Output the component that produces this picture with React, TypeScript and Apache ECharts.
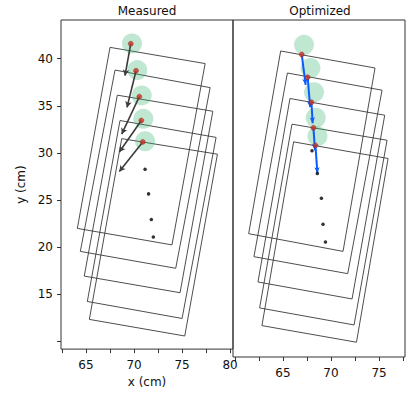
import React, { useEffect, useRef } from "react";
import * as echarts from "echarts";

// ---- data (cm) ----
const panelTitles = ["Measured", "Optimized"];
const xLabelsMeasured = [65, 70, 75, 80];
const xTicksMeasured = [62.5, 65, 67.5, 70, 72.5, 75, 77.5, 80];
const xLabelsOptimized = [65, 70, 75];
const xTicksOptimized = [60, 62.5, 65, 67.5, 70, 72.5, 75, 77.5];
const yLabels = [15, 20, 25, 30, 35, 40];
const yTicks = [10, 15, 20, 25, 30, 35, 40];

// rectangle corners: TL, TR, BR, BL
const measuredRects = [
  [[67.5, 41.2], [77.4, 39.48], [73.95, 20.25], [64.1, 22.0]],
  [[68.02, 38.79], [77.92, 36.93], [74.34, 17.77], [64.41, 19.56]],
  [[68.26, 36.13], [78.2, 34.42], [74.79, 15.18], [64.82, 16.94]],
  [[68.54, 33.44], [78.54, 31.65], [75.0, 12.45], [65.14, 14.25]],
  [[68.72, 31.52], [78.68, 29.87], [75.28, 10.59], [65.35, 12.35]],
];
const measuredCircles = [[69.79, 41.61], [70.34, 38.79], [70.8, 36.1], [70.97, 33.62], [71.15, 31.24]];
const measuredPoints = [[69.66, 41.58], [70.21, 38.72], [70.55, 35.97], [70.76, 33.44], [70.91, 31.17]];
const measuredArrowTips = [[69.06, 38.2], [69.27, 34.83], [68.72, 32.0], [68.47, 30.1], [68.47, 28.03]];
const measuredTruth = [[71.15, 28.27], [71.51, 25.66], [71.8, 22.94], [72.01, 21.08]];

const optimizedRects = [
  [[64.76, 40.89], [74.58, 39.13], [71.25, 20.14], [61.43, 21.97]],
  [[65.46, 38.61], [75.31, 36.83], [71.74, 17.83], [61.98, 19.59]],
  [[65.73, 35.97], [75.59, 34.24], [72.19, 15.21], [62.4, 16.97]],
  [[65.94, 33.31], [75.83, 31.65], [72.4, 12.52], [62.57, 14.28]],
  [[66.11, 31.48], [75.94, 29.76], [72.65, 10.73], [62.81, 12.45]],
];
const optimizedCircles = [[67.19, 41.53], [67.86, 39.13], [68.23, 36.62], [68.41, 33.98], [68.59, 32.07]];
const optimizedPoints = [[66.95, 40.53], [67.57, 38.17], [67.96, 35.58], [68.17, 32.93], [68.38, 31.11]];
const optimizedArrowTips = [[67.36, 37.39], [67.83, 35.07], [68.09, 33.41], [68.33, 30.62], [68.58, 28.24]];
const optimizedTruth = [[68.02, 30.55], [68.58, 28.21], [69.0, 25.63], [69.17, 22.94], [69.42, 21.11]];

const FONT = "DejaVu Sans";

function panelSeries(idx: number, rects: number[][][], circles: number[][], pts: number[][], tips: number[][], truth: number[][], arrowColor: string, arrowWidth: number, headSize: number[]) {
  const out: any[] = [];
  rects.forEach((r) => {
    out.push({
      type: "line",
      xAxisIndex: idx,
      yAxisIndex: idx,
      data: [...r, r[0]],
      symbol: "none",
      silent: true,
      z: 2,
      lineStyle: { color: "#3a3a3a", width: 0.9 },
    });
  });
  out.push({
    type: "scatter",
    xAxisIndex: idx,
    yAxisIndex: idx,
    data: circles,
    symbolSize: 20,
    silent: true,
    z: 3,
    itemStyle: { color: "rgba(60,179,113,0.4)" },
  });
  out.push({
    type: "line",
    xAxisIndex: idx,
    yAxisIndex: idx,
    data: [],
    symbol: "none",
    silent: true,
    z: 4,
    markLine: {
      silent: true,
      animation: false,
      symbol: ["none", "arrow"],
      symbolSize: headSize,
      label: { show: false },
      emphasis: { disabled: true },
      lineStyle: { color: arrowColor, width: arrowWidth, type: "solid", opacity: 1 },
      data: pts.map((p, i) => [{ coord: p }, { coord: tips[i] }]),
    },
  });
  out.push({
    type: "scatter",
    xAxisIndex: idx,
    yAxisIndex: idx,
    data: pts,
    symbolSize: 5,
    silent: true,
    z: 5,
    itemStyle: { color: "#d0301f", borderColor: "#7a2418", borderWidth: 0.5 },
  });
  out.push({
    type: "scatter",
    xAxisIndex: idx,
    yAxisIndex: idx,
    data: truth,
    symbolSize: 3.5,
    silent: true,
    z: 5,
    itemStyle: { color: "#000" },
  });
  return out;
}

export default function App() {
  const ref = useRef<HTMLDivElement>(null);
  useEffect(() => {
    if (!ref.current) return;
    const chart = echarts.init(ref.current, undefined, { renderer: "svg" });
    const axisCommon = {
      type: "value",
      splitLine: { show: false },
      axisLine: { show: false },
      axisTick: { show: true, length: 4, lineStyle: { color: "#333", width: 1 } },
      axisLabel: { fontFamily: FONT, fontSize: 12, color: "#111" },
    };
    chart.setOption({
      animation: false,
      backgroundColor: "#fff",
      grid: [
        { left: 61, top: 20, width: 172, height: 337, show: true, borderColor: "#333", borderWidth: 1 },
        { left: 233, top: 20, width: 172, height: 337, show: true, borderColor: "#333", borderWidth: 1 },
      ],
      xAxis: [
        {
          ...axisCommon,
          gridIndex: 0,
          min: 62.4,
          max: 80.3,
          axisTick: { ...axisCommon.axisTick, customValues: xTicksMeasured },
          axisLabel: { ...axisCommon.axisLabel, customValues: xLabelsMeasured, margin: 10 },
          name: "x (cm)",
          nameLocation: "middle",
          nameGap: 24,
          nameTextStyle: { fontFamily: FONT, fontSize: 12, color: "#111" },
        },
        {
          ...axisCommon,
          gridIndex: 1,
          min: 59.8,
          max: 77.7,
          axisTick: { ...axisCommon.axisTick, customValues: xTicksOptimized },
          axisLabel: { ...axisCommon.axisLabel, customValues: xLabelsOptimized, margin: 10 },
        },
      ],
      yAxis: [
        {
          ...axisCommon,
          gridIndex: 0,
          min: 9.2,
          max: 44.1,
          axisTick: { ...axisCommon.axisTick, customValues: yTicks },
          axisLabel: { ...axisCommon.axisLabel, customValues: yLabels, margin: 8 },
          name: "y (cm)",
          nameLocation: "middle",
          nameGap: 34,
          nameTextStyle: { fontFamily: FONT, fontSize: 12, color: "#111" },
        },
        {
          ...axisCommon,
          gridIndex: 1,
          min: 9.2,
          max: 44.1,
          axisTick: { show: false },
          axisLabel: { show: false },
        },
      ],
      graphic: [
        { type: "text", x: 147, y: 11, style: { text: panelTitles[0], textAlign: "center", textVerticalAlign: "middle", fontFamily: FONT, fontSize: 12, fill: "#111" } },
        { type: "text", x: 320, y: 11, style: { text: panelTitles[1], textAlign: "center", textVerticalAlign: "middle", fontFamily: FONT, fontSize: 12, fill: "#111" } },
      ],
      series: [
        ...panelSeries(0, measuredRects, measuredCircles, measuredPoints, measuredArrowTips, measuredTruth, "#3c3c3c", 1.6, [5, 6]),
        ...panelSeries(1, optimizedRects, optimizedCircles, optimizedPoints, optimizedArrowTips, optimizedTruth, "#0a5cff", 2, [4, 6]),
      ],
    });
    return () => chart.dispose();
  }, []);
  return (
    <div
      ref={ref}
      style={{ position: "fixed", left: 0, top: 0, width: 406, height: 393, background: "#fff" }}
    />
  );
}
